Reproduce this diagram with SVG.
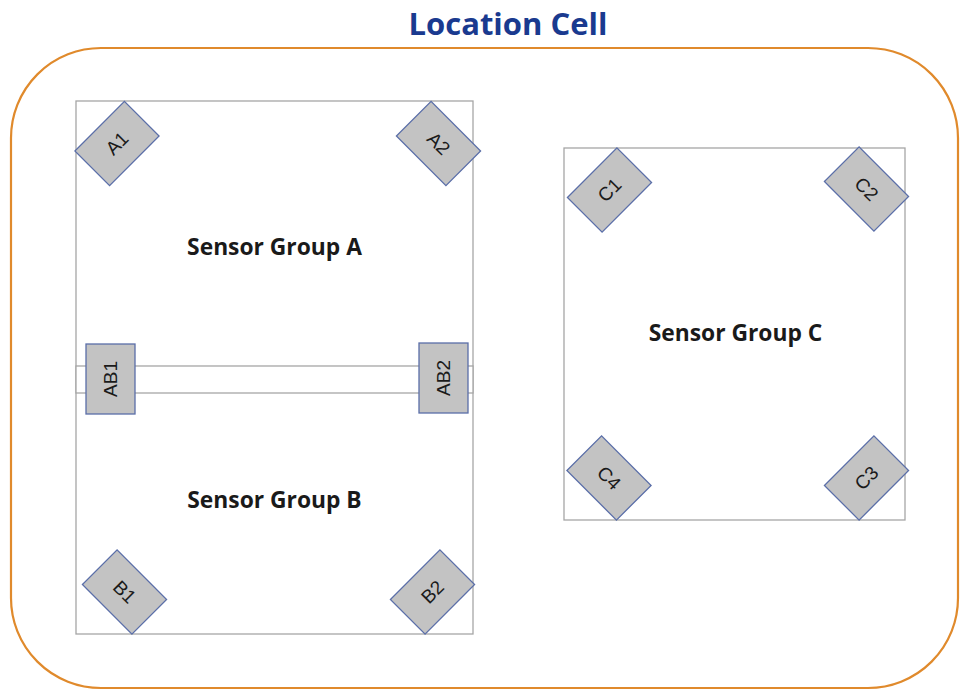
<svg xmlns="http://www.w3.org/2000/svg" width="960" height="690" viewBox="0 0 960 690">
<style>
.title{font-family:"Open Sans","Liberation Sans",sans-serif;font-weight:bold;font-size:31px;fill:#1a3a8f;text-anchor:middle}
.grp{fill:#ffffff;stroke:#a6a6a6;stroke-width:1.3}
.lbl{font-family:"Open Sans","Liberation Sans",sans-serif;font-weight:bold;font-size:22.8px;fill:#1a1a1a;text-anchor:middle}
.sen{fill:#c3c3c3;stroke:#5a6ea8;stroke-width:1.3}
.st{font-family:"Liberation Sans","Open Sans",sans-serif;font-size:19px;fill:#1a1a1a;text-anchor:middle;dominant-baseline:central}
</style>
<rect width="960" height="690" fill="#ffffff"/>
<g id="location-cell">
<rect x="11" y="48" width="947" height="640" rx="90" ry="90" fill="none" stroke="#e08a2c" stroke-width="2.2"/>
<text class="title" x="508" y="35">Location Cell</text>
</g>
<g id="group-ab">
<rect class="grp" x="76" y="101" width="397" height="533"/>
<text class="lbl" x="274.5" y="255">Sensor Group A</text>
<text class="lbl" x="274.5" y="508">Sensor Group B</text>
</g>
<g id="group-c">
<rect class="grp" x="564" y="148" width="341" height="372"/>
<text class="lbl" x="735.5" y="341">Sensor Group C</text>
</g>
<g id="connectors">
<rect class="grp" x="76" y="366" width="397" height="27"/>
</g>
<g id="AB1"><rect class="sen" x="86" y="344" width="49" height="70"/><text class="st" transform="translate(110.5,379) rotate(-90)">AB1</text></g>
<g id="AB2"><rect class="sen" x="419" y="343" width="49" height="70"/><text class="st" transform="translate(443.5,378) rotate(-90)">AB2</text></g>
<g id="A1"><rect class="sen" x="-24.5" y="-35" width="49" height="70" transform="translate(117,143.5) rotate(45)"/><text class="st" transform="translate(117,143.5) rotate(-45)">A1</text></g>
<g id="A2"><rect class="sen" x="-24.5" y="-35" width="49" height="70" transform="translate(438.5,143.5) rotate(-45)"/><text class="st" transform="translate(438.5,143.5) rotate(45)">A2</text></g>
<g id="B1"><rect class="sen" x="-24.5" y="-35" width="49" height="70" transform="translate(124.5,592) rotate(-45)"/><text class="st" transform="translate(124.5,592) rotate(45)">B1</text></g>
<g id="B2"><rect class="sen" x="-24.5" y="-35" width="49" height="70" transform="translate(432.5,592) rotate(45)"/><text class="st" transform="translate(432.5,592) rotate(-45)">B2</text></g>
<g id="C1"><rect class="sen" x="-24.5" y="-35" width="49" height="70" transform="translate(609.5,190) rotate(45)"/><text class="st" transform="translate(609.5,190) rotate(-45)">C1</text></g>
<g id="C2"><rect class="sen" x="-24.5" y="-35" width="49" height="70" transform="translate(866.5,189) rotate(-45)"/><text class="st" transform="translate(866.5,189) rotate(45)">C2</text></g>
<g id="C3"><rect class="sen" x="-24.5" y="-35" width="49" height="70" transform="translate(866.5,478) rotate(45)"/><text class="st" transform="translate(866.5,478) rotate(-45)">C3</text></g>
<g id="C4"><rect class="sen" x="-24.5" y="-35" width="49" height="70" transform="translate(609,478) rotate(-45)"/><text class="st" transform="translate(609,478) rotate(45)">C4</text></g>
</svg>
